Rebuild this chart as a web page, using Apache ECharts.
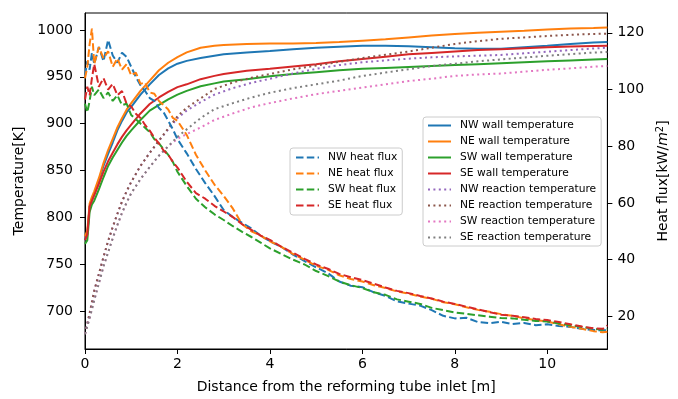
<!DOCTYPE html>
<html>
<head>
<meta charset="utf-8">
<script src="https://cdn.jsdelivr.net/npm/echarts@6/dist/echarts.min.js"></script>
<style>html,body{margin:0;padding:0;background:#fff;}#c{width:678px;height:399px;}</style>
</head>
<body>
<div id="c"></div>
<script>
// ---- Data ----
const xTicks = [0, 2, 4, 6, 8, 10];
const tempTicks = [700, 750, 800, 850, 900, 950, 1000];
const fluxTicks = [20, 40, 60, 80, 100, 120];

const xWall = [0,0.05,0.1,0.15,0.2,0.3,0.4,0.5,0.6,0.7,0.8,0.9,1.0,1.2,1.4,1.6,1.8,2.0,2.2,2.5,2.8,3.0,3.5,4.0,4.5,5.0,5.5,6.0,6.5,7.0,7.5,8.0,8.5,9.0,9.5,10.0,10.5,11.0,11.3];
const nwWall = [776,783,812,818,825,840,855,868,880,893,903,912,918,931,942,952,959,964,967,970,972.5,974,976,977.5,979.5,981,982,983,983,982.5,981.5,980.5,980,980,981.5,983,985,986.5,987];
const neWall = [780,786,815,822,828,842,858,872,884,896,906,915,922,935,946,957,965,971,976,981,983,984,985,985.5,985.5,986,987,988.5,990,992,994,995.5,997,998,999,1000.5,1001.5,1002,1002.5];
const swWall = [772,776,806,814,818,830,843,855,864,872,880,887,893,904,914,920,926,931,935,940,943,945,947.5,950.5,953,955,957,958.5,959.5,960.5,961.5,962.5,963.5,964.5,965.5,966.5,967.5,968.5,969];
const seWall = [776,782,812,818,824,836,849,860,869,878,886,893,899,911,921,928,934,939,942,947.5,951,953,956.5,958.5,961,963.5,966.5,969,971.5,974,975.5,977,978.5,979.5,980.5,981.5,982.2,982.8,983];

const xReact = [0,0.1,0.2,0.3,0.4,0.5,0.6,0.7,0.8,0.9,1.0,1.2,1.4,1.6,1.8,2.0,2.2,2.5,2.8,3.2,3.6,4.0,4.5,5.0,5.5,6.0,6.5,7.0,7.5,8.0,8.5,9.0,9.5,10.0,10.5,11.0,11.3];
const nwReact = [676,698,722,740,758,775,790,804,817,828,838,855,869,882,894,906,914,923,931,938,943.5,948,953.5,958.5,962.5,965.5,967.5,969.3,970.8,971.8,972.5,973.3,975,976.8,978.5,980.2,981];
const neReact = [676,698,722,740,758,775,790,804,817,828,838,855,869,882,895,908,917,927,937,944,949,953,958,962,966,970,973.5,977,981,985,988,990.5,992,993.5,994.8,995.7,996];
const swReact = [676,693,712,730,748,763,778,792,805,816,826,841,854,866,876,884,889,896,904,911,917.5,922,927,931.5,935,938.5,942,945.5,948,951,952.5,953.5,955.5,957.5,959,960.8,961.6];
const seReact = [676,693,712,730,748,763,778,792,805,816,826,841,854,866,876,886,894,906,915.5,922,928,933,938,942,946,951,954.5,958,961.5,964,966.5,968.6,970.5,972.5,974.2,975.8,976.4];

const xFlux = [0,0.05,0.1,0.15,0.2,0.3,0.4,0.5,0.6,0.7,0.8,0.9,1.0,1.1,1.2,1.3,1.4,1.5,1.6,1.7,1.8,1.9,2.0,2.2,2.4,2.6,2.8,3.0,3.2,3.4,3.6,3.8,4.0,4.25,4.5,4.75,5.0,5.25,5.5,5.75,6.0,6.25,6.5,6.75,7.0,7.25,7.5,7.75,8.0,8.25,8.5,8.75,9.0,9.25,9.5,9.75,10.0,10.25,10.5,10.75,11.0,11.2,11.3];
const nwFlux = [105,110,107,113,109,115,110,117.5,112,109.5,113,111.5,108,104.5,101.5,99.5,97,96,93.5,92,89,86,82.5,77.5,72,67,62.5,57.5,55,53,51,48.5,46.5,44.5,41.8,39.5,37.3,35.3,32.3,30.8,30.3,28.5,27.2,25.3,24.5,23.8,22.2,20.2,19.3,19.5,18,17.6,18.1,17.3,17.7,16.9,17.2,16.6,16.3,15.6,15.2,15.0,15.3];
const neFlux = [104,108,116,121.5,109,115,111,113.5,108,111,107,109,105,106,102,102.5,99,98.5,96,94.5,93,90,89,84,77,71.5,66.5,62.5,58,52.5,50,48.5,46.5,44.5,42,40,37.8,36.5,34.5,33.2,32.3,31,30,28.8,28,27,26.2,25,24.3,23.2,22.3,21.6,20.8,20.2,19.3,18.7,18.2,17.2,16.3,15.6,14.8,14.4,14.6];
const swFlux = [95,92,96,101,98,100,97,99,96,98,94.5,95,91,89.5,88,86.5,85,82.5,81,79,77,74.5,71,66,61.5,58.5,56,54,51.8,49.8,48,46,44,42,40,38.3,36,34.3,32.3,31,30,28.5,27.6,26,25.2,24.4,23,22.2,21.4,20.9,20.4,19.9,19.4,19.3,18.8,18.4,18.2,17.5,16.8,16.3,15.7,15.3,15.5];
const seFlux = [96.5,101,98,104,109,101,104,100,102,98,99.5,95,94,91.5,90,87.5,85.5,83,81,78.5,77,74.5,72.5,67.5,63.5,61.5,59,57,55,52.5,50.5,48.5,47,44.5,42.5,40.3,38.3,36.8,35,33.8,32.8,31.5,30.2,29,28.2,27.2,26.3,25.2,24.4,23.4,22.5,21.5,20.6,20.2,19.7,19.1,18.7,18.0,17.2,16.4,15.8,15.6,16.8];

// ---- Styling ----
const C = {blue:'#1f77b4', orange:'#ff7f0e', green:'#2ca02c', red:'#d62728', purple:'#9467bd', brown:'#8c564b', pink:'#e377c2', gray:'#7f7f7f'};
const DASH = [7.5, 3.3];
const DOT = [2, 3.4];
const FONT = 'DejaVu Sans';

const pair = (xs, ys) => xs.map((x, i) => [x, ys[i]]);
function mk(name, xs, ys, color, dash, yAxisIndex) {
  return {
    name: name, type: 'line', yAxisIndex: yAxisIndex, data: pair(xs, ys),
    symbol: 'none', showSymbol: false, smooth: false, animation: false,
    lineStyle: {color: color, width: 2, type: dash, cap: 'butt'},
    itemStyle: {color: color, opacity: 0}
  };
}

const series = [
  mk('NW wall temperature', xWall, nwWall, C.blue, 'solid', 0),
  mk('NE wall temperature', xWall, neWall, C.orange, 'solid', 0),
  mk('SW wall temperature', xWall, swWall, C.green, 'solid', 0),
  mk('SE wall temperature', xWall, seWall, C.red, 'solid', 0),
  mk('NW reaction temperature', xReact, nwReact, C.purple, DOT, 0),
  mk('NE reaction temperature', xReact, neReact, C.brown, DOT, 0),
  mk('SW reaction temperature', xReact, swReact, C.pink, DOT, 0),
  mk('SE reaction temperature', xReact, seReact, C.gray, DOT, 0),
  mk('NW heat flux', xFlux, nwFlux, C.blue, DASH, 1),
  mk('NE heat flux', xFlux, neFlux, C.orange, DASH, 1),
  mk('SW heat flux', xFlux, swFlux, C.green, DASH, 1),
  mk('SE heat flux', xFlux, seFlux, C.red, DASH, 1)
];

const plain = v => String(v);
const axisCommon = {
  axisLine: {show: true, onZero: false, lineStyle: {color: '#000', width: 1}},
  axisTick: {show: true, inside: false, length: 5, lineStyle: {color: '#000', width: 1}},
  splitLine: {show: false},
  nameTextStyle: {fontFamily: FONT, fontSize: 14, color: '#000'}
};

const legendCommon = {
  orient: 'vertical',
  itemWidth: 23, itemHeight: 10, itemGap: 5,
  backgroundColor: 'rgba(255,255,255,0.8)',
  borderColor: '#cccccc', borderWidth: 1, borderRadius: 3,
  itemStyle: {opacity: 0},
  textStyle: {fontFamily: FONT, fontSize: 10.7, color: '#000', padding: [0, 0, 0, 4]},
  selectedMode: false
};

const chart = echarts.init(document.getElementById('c'), null, {renderer: 'canvas'});
chart.setOption({
  animation: false,
  backgroundColor: '#fff',
  grid: {left: 85, right: 70, top: 13, bottom: 47, show: true, borderColor: '#000', borderWidth: 1, backgroundColor: 'transparent'},
  xAxis: Object.assign({}, axisCommon, {
    type: 'value', min: 0, max: 11.3,
    name: 'Distance from the reforming tube inlet [m]',
    nameLocation: 'middle', nameGap: 31,
    axisTick: Object.assign({}, axisCommon.axisTick, {customValues: xTicks}),
    axisLabel: {customValues: xTicks, formatter: plain, fontFamily: FONT, fontSize: 14, color: '#000', margin: 8}
  }),
  yAxis: [
    Object.assign({}, axisCommon, {
      type: 'value', position: 'left', min: 660, max: 1018,
      name: 'Temperature[K]', nameLocation: 'middle', nameGap: 52,
      axisTick: Object.assign({}, axisCommon.axisTick, {customValues: tempTicks}),
      axisLabel: {customValues: tempTicks, formatter: plain, fontFamily: FONT, fontSize: 14, color: '#000', margin: 12}
    }),
    Object.assign({}, axisCommon, {
      type: 'value', position: 'right', min: 8.5, max: 127,
      name: 'Heat flux[kW/{i|m}{s|2}]', nameLocation: 'middle', nameGap: 46,
      nameTextStyle: {fontFamily: FONT, fontSize: 14, color: '#000',
        rich: {i: {fontFamily: FONT, fontSize: 14, fontStyle: 'italic', color: '#000'},
               s: {fontFamily: FONT, fontSize: 10, color: '#000', verticalAlign: 'top', padding: [0, 0, 6, 0]}}},
      axisTick: Object.assign({}, axisCommon.axisTick, {customValues: fluxTicks}),
      axisLabel: {customValues: fluxTicks, formatter: plain, fontFamily: FONT, fontSize: 14, color: '#000', margin: 10}
    })
  ],
  legend: [
    Object.assign({}, legendCommon, {
      left: 290, top: 148, padding: [4, 5, 4, 5],
      data: ['NW heat flux', 'NE heat flux', 'SW heat flux', 'SE heat flux']
    }),
    Object.assign({}, legendCommon, {
      left: 423, top: 117, padding: [3, 5, 3, 4],
      data: ['NW wall temperature', 'NE wall temperature', 'SW wall temperature', 'SE wall temperature',
             'NW reaction temperature', 'NE reaction temperature', 'SW reaction temperature', 'SE reaction temperature']
    })
  ],
  series: series
});
</script>
</body>
</html>
